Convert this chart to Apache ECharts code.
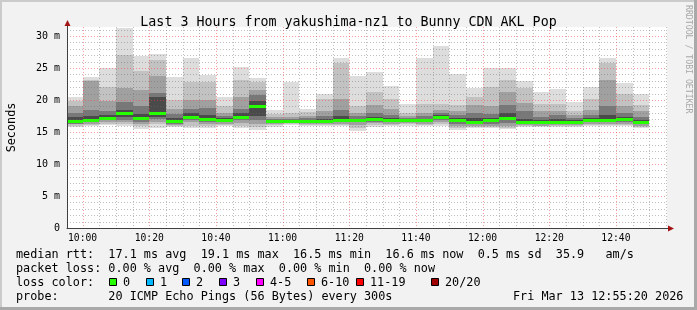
<!DOCTYPE html>
<html><head><meta charset="utf-8">
<script src="https://cdn.jsdelivr.net/npm/echarts@6/dist/echarts.min.js"></script>
<style>html,body{margin:0;padding:0;background:#f2f2f2;}#c{width:697px;height:310px;}</style>
</head><body><div id="c"></div>
<script>
// ---- data (ms) ----
const barStarts = ['09:55','10:00','10:05','10:10','10:15','10:20','10:25','10:30','10:35','10:40','10:45','10:50','10:55',
  '11:00','11:05','11:10','11:15','11:20','11:25','11:30','11:35','11:40','11:45','11:50','11:55',
  '12:00','12:05','12:10','12:15','12:20','12:25','12:30','12:35','12:40','12:45'];
const pingMax = [20.5,23.6,25.0,31.3,26.9,27.2,23.6,26.5,23.9,20.4,25.2,23.5,18.4,22.8,18.6,20.9,26.6,23.8,24.3,22.2,19.4,26.5,28.4,24.0,21.9,25.0,25.0,23.0,21.3,21.7,19.7,22.0,26.6,22.7,20.9];
const ping18  = [19.8,23.1,22.1,27.0,24.5,26.2,20.0,22.8,22.8,19.1,23.1,22.8,17.8,18.0,18.1,20.2,25.7,19.1,21.3,20.2,18.0,19.4,19.3,19.2,20.5,22.1,23.1,21.8,19.4,19.4,18.3,20.2,25.8,21.0,19.2];
const ping16  = [19.0,22.9,19.8,21.8,21.6,23.7,18.6,20.0,20.0,18.0,20.5,21.6,17.4,17.4,17.5,18.2,20.2,18.0,19.2,18.6,17.5,18.0,18.5,18.2,19.2,19.0,21.3,19.5,18.2,18.3,17.6,18.5,23.1,19.0,18.2];
const ping14  = [17.9,18.5,18.3,19.7,19.0,21.1,17.8,18.6,18.7,17.5,18.6,20.8,17.1,17.1,17.2,17.5,18.5,17.5,17.9,17.7,17.2,17.5,17.9,17.6,18.0,17.8,19.2,18.2,17.4,17.6,17.2,17.7,19.0,18.0,17.4];
const ping12  = [17.3,17.5,17.6,18.4,17.8,20.5,17.2,17.9,17.7,17.2,17.9,19.8,16.9,16.9,16.9,17.0,17.5,17.1,17.3,17.2,17.0,17.1,17.6,17.2,17.2,17.2,18.0,17.1,16.9,17.0,16.9,17.2,17.6,17.4,16.9];
const median  = [16.7,16.9,17.2,17.9,17.2,17.9,16.7,17.4,17.1,16.9,17.4,19.1,16.7,16.7,16.7,16.7,16.9,16.9,17.0,16.9,16.8,16.9,17.4,16.9,16.6,16.9,17.2,16.6,16.5,16.6,16.6,16.9,16.9,17.0,16.6];
const ping9   = [16.5,16.7,17.0,17.3,16.9,17.4,16.5,17.1,16.9,16.7,17.1,17.5,16.6,16.6,16.6,16.6,16.7,16.7,16.8,16.7,16.7,16.7,17.1,16.6,16.4,16.6,16.8,16.4,16.4,16.5,16.5,16.7,16.7,16.8,16.4];
const ping7   = [16.3,16.5,16.8,16.9,16.6,17.0,16.3,16.8,16.6,16.5,16.8,16.8,16.4,16.5,16.5,16.4,16.5,16.5,16.6,16.5,16.6,16.5,16.8,16.3,16.2,16.3,16.4,16.3,16.2,16.3,16.3,16.5,16.5,16.6,16.2];
const ping5   = [16.2,16.3,16.6,16.5,16.3,16.6,16.1,16.5,16.3,16.3,16.4,16.3,16.3,16.4,16.3,16.3,16.3,16.1,16.4,16.3,16.4,16.3,16.5,16.0,16.0,16.0,16.0,16.1,16.0,16.1,16.1,16.3,16.3,16.3,16.0];
const ping3   = [16.0,16.1,16.3,16.2,15.9,16.2,15.9,16.0,16.0,16.1,16.0,15.8,16.1,16.3,16.1,16.1,16.1,15.6,16.1,16.1,16.2,16.1,16.2,15.6,15.8,15.8,15.7,15.9,15.9,15.9,15.9,16.1,16.1,16.1,15.8];
const pingMin = [15.8,15.9,16.1,15.9,15.4,15.7,15.8,15.6,15.7,15.9,15.7,15.3,15.8,16.1,15.9,15.9,15.9,15.2,15.8,15.9,16.0,15.9,15.9,15.3,15.6,15.7,15.4,15.8,15.8,15.8,15.8,15.9,15.9,15.9,15.7];
const stepMinutes = 5;
const timeStart = '09:55:20', timeEnd = '12:55:20';
const xTickLabels = ['10:00','10:20','10:40','11:00','11:20','11:40','12:00','12:20','12:40'];
const xMinorTicks = ['10:00','10:05','10:10','10:15','10:20','10:25','10:30','10:35','10:40','10:45','10:50','10:55',
  '11:00','11:05','11:10','11:15','11:20','11:25','11:30','11:35','11:40','11:45','11:50','11:55',
  '12:00','12:05','12:10','12:15','12:20','12:25','12:30','12:35','12:40','12:45','12:50','12:55'];
const yTickLabels = [0,5,10,15,20,25,30];
const yMinorTicks = [1,2,3,4,6,7,8,9,11,12,13,14,16,17,18,19,21,22,23,24,26,27,28,29,31];
const yMax = 31.4;
const lossColors = ['#26ff00','#00b8ff','#0059ff','#7e00ff','#ff00ff','#ff5500','#ff0000','#a10000'];
const lossLabels = ['0','1','2','3','4-5','6-10','11-19','20/20'];
const statsLine = 'median rtt:  17.1 ms avg  19.1 ms max  16.5 ms min  16.6 ms now  0.5 ms sd  35.9   am/s';
const lossLine = 'packet loss: 0.00 % avg  0.00 % max  0.00 % min  0.00 % now';
const probeLine = 'probe:       20 ICMP Echo Pings (56 Bytes) every 300s';
const dateText = 'Fri Mar 13 12:55:20 2026';
const titleText = 'Last 3 Hours from yakushima-nz1 to Bunny CDN AKL Pop';

// ---- helpers ----
const toMin = s => { const p = s.split(':').map(Number); return p[0]*60 + p[1] + (p[2]||0)/60; };
const MONO = '"DejaVu Sans Mono", monospace';
const smokeColors = ['#dddddd','#c2c2c2','#a0a0a0','#787878','#4a4a4a'];
const xMajorVals = xTickLabels.map(toMin);

const chart = echarts.init(document.getElementById('c'), null, {renderer:'canvas'});

const smokeData = barStarts.map((s,i)=>[toMin(s), toMin(s)+stepMinutes,
  pingMin[i], ping3[i], ping5[i], ping7[i], ping9[i], ping12[i], ping14[i], ping16[i], ping18[i], pingMax[i]]);
const medianData = barStarts.map((s,i)=>[toMin(s), toMin(s)+stepMinutes, median[i]]);
const vGridData = xMinorTicks.map(t=>[toMin(t), 0, xTickLabels.includes(t)?1:0]);
const hGridData = yMinorTicks.map(v=>[toMin(timeStart), v, 0]).concat(yTickLabels.filter(v=>v>0).map(v=>[toMin(timeStart), v, 1]));

function csRect(cs){ return {x:cs.x, y:cs.y, width:cs.width, height:cs.height}; }
const MINOR = 'rgba(110,110,110,0.45)', MAJOR = 'rgba(255,60,60,0.5)';

const option = {
  backgroundColor: '#f2f2f2',
  animation: false,
  title: { text: titleText, left: 'center', top: 11,
    textStyle: { fontFamily: MONO, fontSize: 13.3, fontWeight: 'normal', color: '#000' } },
  grid: { left: 67, right: 30, top: 27, bottom: 82, show: true, backgroundColor: '#ffffff', borderWidth: 0,
    containLabel: false, outerBoundsMode: 'none' },
  xAxis: { type: 'value', min: toMin(timeStart), max: toMin(timeEnd), z: 10,
    axisLine: { show: true, onZero: false, lineStyle: { color: '#404040', width: 1 } },
    axisTick: { show: false }, splitLine: { show: false },
    axisLabel: { customValues: xMajorVals, margin: 5, color: '#000', fontFamily: MONO, fontSize: 9.7,
      formatter: v => { const i = xMajorVals.findIndex(t => Math.abs(t - v) < 1e-6); return i >= 0 ? xTickLabels[i] : ''; } } },
  yAxis: { type: 'value', min: 0, max: yMax, interval: 5, z: 10,
    name: 'Seconds', nameLocation: 'middle', nameGap: 49, nameRotate: 90,
    nameTextStyle: { fontFamily: MONO, fontSize: 11.8, color: '#000' },
    axisLine: { show: true, onZero: false, lineStyle: { color: '#404040', width: 1 } },
    axisTick: { show: false }, splitLine: { show: false },
    axisLabel: { customValues: yTickLabels, margin: 7, color: '#000', fontFamily: MONO, fontSize: 10,
      formatter: v => v === 0 ? '0' : v + ' m' } },
  series: [
    { type: 'custom', z: 1, silent: true, data: smokeData, encode: { x: [0,1], y: [2,11] },
      renderItem(params, api) {
        const x0 = api.value(0), x1 = api.value(1);
        const children = [];
        for (let k = 0; k < 5; k++) {
          const lo = api.value(2+k), hi = api.value(11-k);
          const p0 = api.coord([x0, hi]), p1 = api.coord([x1, lo]);
          const xa = Math.round(p0[0]), xb = Math.round(p1[0]);
          const ya = Math.round(p0[1]), yb = Math.round(p1[1]);
          const r = echarts.graphic.clipRectByRect({x: xa, y: ya, width: xb-xa, height: yb-ya}, csRect(params.coordSys));
          if (r) children.push({ type: 'rect', shape: r, style: { fill: smokeColors[k] } });
        }
        return { type: 'group', children };
      } },
    { type: 'custom', z: 2, silent: true, data: vGridData, encode: { x: 0, y: 1 },
      renderItem(params, api) {
        const cs = params.coordSys;
        const p = api.coord([api.value(0), 0]);
        const x = Math.round(p[0]) + 0.5;
        const major = api.value(2) === 1;
        return { type: 'line', shape: { x1: x, y1: cs.y, x2: x, y2: cs.y + cs.height },
          style: { stroke: major ? MAJOR : MINOR, lineWidth: 1, lineDash: [1,2] } };
      } },
    { type: 'custom', z: 2, silent: true, data: hGridData, encode: { x: 0, y: 1 },
      renderItem(params, api) {
        const cs = params.coordSys;
        const p = api.coord([api.value(0), api.value(1)]);
        const y = Math.round(p[1]) + 0.5;
        const major = api.value(2) === 1;
        return { type: 'line', shape: { x1: cs.x, y1: y, x2: cs.x + cs.width, y2: y },
          style: { stroke: major ? MAJOR : MINOR, lineWidth: 1, lineDash: [1,2] } };
      } },
    { type: 'custom', z: 3, silent: true, data: medianData, encode: { x: [0,1], y: 2 },
      renderItem(params, api) {
        const p0 = api.coord([api.value(0), api.value(2)]), p1 = api.coord([api.value(1), api.value(2)]);
        const xa = Math.round(p0[0]), xb = Math.round(p1[0]), y = Math.round(p0[1]);
        const r = echarts.graphic.clipRectByRect({x: xa, y: y-1, width: xb-xa, height: 3}, csRect(params.coordSys));
        return r ? { type: 'rect', shape: r, style: { fill: lossColors[0] } } : null;
      } }
  ],
  graphic: []
};

const g = [];
// frame
g.push({type:'rect', shape:{x:0,y:0,width:697,height:2}, style:{fill:'#cbcbcb'}, silent:true});
g.push({type:'rect', shape:{x:0,y:0,width:2,height:310}, style:{fill:'#cbcbcb'}, silent:true});
g.push({type:'rect', shape:{x:0,y:307,width:697,height:3}, style:{fill:'#a9a9a9'}, silent:true});
g.push({type:'rect', shape:{x:694,y:0,width:3,height:310}, style:{fill:'#a9a9a9'}, silent:true});
// axis extensions and arrows
g.push({type:'line', shape:{x1:67.5,y1:22,x2:67.5,y2:27}, style:{stroke:'#404040',lineWidth:1}, silent:true});
g.push({type:'line', shape:{x1:667,y1:228.5,x2:669,y2:228.5}, style:{stroke:'#404040',lineWidth:1}, silent:true});
g.push({type:'polygon', shape:{points:[[67.5,20],[64.5,26],[70.5,26]]}, style:{fill:'#a31515'}, silent:true});
g.push({type:'polygon', shape:{points:[[674,228.5],[668,225.5],[668,231.5]]}, style:{fill:'#a31515'}, silent:true});
// watermark
g.push({type:'text', x:688, y:5, rotation:-Math.PI/2, silent:true,
  style:{text:'RRDTOOL / TOBI OETIKER', font:'8.2px '+MONO, fill:'#a8a8a8', align:'left', verticalAlign:'middle'}});
// legend
const legendFont = '11.8px ' + MONO;
g.push({type:'text', x:16, y:254.5, silent:true, style:{text:statsLine, font:legendFont, fill:'#000', verticalAlign:'middle'}});
g.push({type:'text', x:16, y:268.5, silent:true, style:{text:lossLine, font:legendFont, fill:'#000', verticalAlign:'middle'}});
g.push({type:'text', x:16, y:282.5, silent:true, style:{text:'loss color:', font:legendFont, fill:'#000', verticalAlign:'middle'}});
const boxX = [109, 146, 182, 219, 256, 307, 356, 431];
lossLabels.forEach((lab, i) => {
  g.push({type:'rect', shape:{x:boxX[i]+0.5, y:278.5, width:7, height:7}, style:{fill:lossColors[i], stroke:'#000', lineWidth:1}, silent:true});
  g.push({type:'text', x:boxX[i]+14, y:282.5, silent:true, style:{text:lab, font:legendFont, fill:'#000', verticalAlign:'middle'}});
});
g.push({type:'text', x:16, y:296.5, silent:true, style:{text:probeLine, font:legendFont, fill:'#000', verticalAlign:'middle'}});
g.push({type:'text', x:513, y:296.5, silent:true, style:{text:dateText, font:legendFont, fill:'#000', verticalAlign:'middle'}});
option.graphic = g;

chart.setOption(option);
</script></body></html>
